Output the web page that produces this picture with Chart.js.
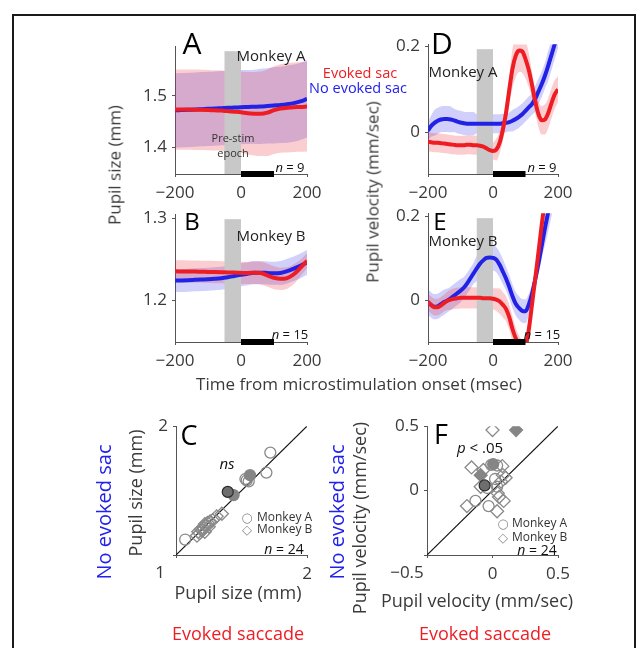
<!DOCTYPE html>
<html><head><meta charset="utf-8">
<script src="https://cdn.jsdelivr.net/npm/chart.js@4.4.1/dist/chart.umd.min.js"></script>
<style>
html,body{margin:0;padding:0;background:#fff;}
#page{position:relative;width:641px;height:648px;overflow:hidden;font-family:'Open Sans',sans-serif;background:#fff;}
canvas{position:absolute;}
.t{position:absolute;white-space:nowrap;line-height:1;transform:translate(-50%,-50%);color:#3a3a3a;z-index:5;}
.r{transform:translate(-50%,-50%) rotate(-90deg);}
.frame{position:absolute;left:12px;top:14px;width:624px;height:700px;border:2px solid #1a1a1a;box-sizing:border-box;}
.L{color:#000;}
.red{color:#ee1d23;}
.blue{color:#2121ee;}
.mk{color:#8a8a8a;font-family:'DejaVu Sans',sans-serif;}
</style></head>
<body><div id="page"><div class="frame"></div>

<div class="t L" style="left:192px;top:43px;font-size:30px">A</div>
<div class="t" style="left:271px;top:55px;font-size:15px;color:#222">Monkey A</div>
<div class="t red" style="left:360px;top:73px;font-size:14.5px">Evoked sac</div>
<div class="t blue" style="left:358px;top:88px;font-size:14.5px">No evoked sac</div>
<div class="t" style="left:233px;top:137px;font-size:11px;color:#333">Pre-stim</div>
<div class="t" style="left:233px;top:152px;font-size:11px;color:#333">epoch</div>
<div class="t" style="left:290px;top:167px;font-size:13px;color:#111"><i>n</i> = 9</div>

<div class="t L" style="left:192px;top:221px;font-size:24px">B</div>
<div class="t" style="left:271px;top:235px;font-size:15px;color:#222">Monkey B</div>
<div class="t" style="left:290px;top:334px;font-size:13px;color:#111"><i>n</i> = 15</div>

<div class="t L" style="left:442px;top:43px;font-size:30px">D</div>
<div class="t" style="left:463px;top:71px;font-size:15px;color:#222">Monkey A</div>
<div class="t" style="left:542px;top:167px;font-size:13px;color:#111"><i>n</i> = 9</div>

<div class="t L" style="left:440px;top:221px;font-size:24px">E</div>
<div class="t" style="left:463px;top:240px;font-size:15px;color:#222">Monkey B</div>
<div class="t" style="left:542px;top:334px;font-size:13px;color:#111"><i>n</i> = 15</div>

<div class="t r" style="left:114px;top:165px;font-size:17px">Pupil size (mm)</div>
<div class="t r" style="left:372px;top:192px;font-size:17px">Pupil velocity (mm/sec)</div>
<div class="t" style="left:359px;top:383px;font-size:17px">Time from microstimulation onset (msec)</div>

<div class="t L" style="left:189px;top:434px;font-size:27px">C</div>
<div class="t" style="left:227px;top:463px;font-size:15px;color:#111"><i>ns</i></div>
<div class="t mk" style="left:247px;top:517px;font-size:13px">○</div>
<div class="t" style="left:257px;top:517px;font-size:12px;color:#333;transform:translate(0,-50%)">Monkey A</div>
<div class="t mk" style="left:247px;top:529px;font-size:13px">◇</div>
<div class="t" style="left:257px;top:529px;font-size:12px;color:#333;transform:translate(0,-50%)">Monkey B</div>
<div class="t" style="left:284px;top:549px;font-size:14px;color:#111"><i>n</i> = 24</div>
<div class="t" style="left:160px;top:571px;font-size:17px">1</div>
<div class="t r" style="left:135px;top:493px;font-size:18px">Pupil size (mm)</div>
<div class="t r blue" style="left:104px;top:512px;font-size:20px">No evoked sac</div>
<div class="t" style="left:238px;top:592px;font-size:18px">Pupil size (mm)</div>
<div class="t red" style="left:238px;top:633px;font-size:18px">Evoked saccade</div>

<div class="t L" style="left:441px;top:433px;font-size:27px">F</div>
<div class="t" style="left:480px;top:447px;font-size:15px;color:#111"><i>p</i> &lt; .05</div>
<div class="t mk" style="left:503px;top:523px;font-size:13px">○</div>
<div class="t" style="left:512px;top:523px;font-size:12px;color:#333;transform:translate(0,-50%)">Monkey A</div>
<div class="t mk" style="left:503px;top:537px;font-size:13px">◇</div>
<div class="t" style="left:512px;top:537px;font-size:12px;color:#333;transform:translate(0,-50%)">Monkey B</div>
<div class="t" style="left:537px;top:550px;font-size:14px;color:#111"><i>n</i> = 24</div>
<div class="t" style="left:407px;top:571px;font-size:17px">−0.5</div>
<div class="t r" style="left:359px;top:518px;font-size:18px">Pupil velocity (mm/sec)</div>
<div class="t r blue" style="left:337px;top:512px;font-size:20px">No evoked sac</div>
<div class="t" style="left:477px;top:600px;font-size:18px">Pupil velocity (mm/sec)</div>
<div class="t red" style="left:485px;top:633px;font-size:18px">Evoked saccade</div>
</div>
<script>
// ---------------- DATA ----------------
const timeCoarse = [-200,-180,-160,-140,-120,-100,-80,-60,-40,-20,0,20,40,60,80,100,120,140,160,180,200];
const timeFine = [-200,-190,-180,-170,-160,-150,-140,-130,-120,-110,-100,-90,-80,-70,-60,-50,-40,-30,-20,-10,0,10,20,30,40,50,60,70,80,90,100,110,120,130,140,150,160,170,180,190,200];
const timeTicks = [-200, 0, 200];
const preStimEpoch = [-50, 0];
const stimWindow = [0, 100];

// Panel A: Monkey A pupil size (mm)
const aEvoked   = [1.473,1.473,1.473,1.4728,1.4725,1.472,1.4715,1.471,1.470,1.469,1.468,1.466,1.465,1.4647,1.467,1.472,1.475,1.4765,1.4775,1.478,1.4788];
const aEvokedSem= [0.078,0.078,0.078,0.078,0.078,0.078,0.078,0.078,0.078,0.079,0.079,0.080,0.081,0.082,0.084,0.085,0.086,0.087,0.087,0.087,0.087];
const aNoEvoked = [1.4715,1.472,1.4725,1.473,1.4738,1.4745,1.475,1.4758,1.4765,1.477,1.4776,1.478,1.4785,1.479,1.480,1.481,1.482,1.4835,1.4855,1.489,1.4936];
const aNoEvokedSem=[0.072,0.072,0.072,0.072,0.072,0.072,0.072,0.072,0.072,0.072,0.072,0.072,0.072,0.073,0.073,0.074,0.074,0.075,0.075,0.075,0.075];
const aTicks = [1.4, 1.5];

// Panel B: Monkey B pupil size (mm)
const bEvoked   = [1.2353,1.2352,1.2351,1.235,1.2348,1.2346,1.2344,1.2342,1.234,1.2338,1.2335,1.2333,1.2337,1.2332,1.2305,1.2275,1.2262,1.2272,1.2318,1.2395,1.2482];
const bEvokedSem= [0.0135,0.0135,0.0135,0.0135,0.0135,0.0135,0.0135,0.0135,0.0135,0.0135,0.0135,0.0135,0.0138,0.014,0.014,0.014,0.0135,0.013,0.012,0.010,0.009];
const bNoEvoked = [1.2241,1.2243,1.2246,1.225,1.2254,1.2258,1.2263,1.227,1.2282,1.2297,1.2312,1.2325,1.2335,1.2337,1.2333,1.2329,1.2333,1.2355,1.2385,1.242,1.2462];
const bNoEvokedSem=[0.014,0.014,0.014,0.014,0.014,0.014,0.014,0.014,0.014,0.014,0.014,0.014,0.014,0.014,0.014,0.014,0.0145,0.015,0.015,0.015,0.015];
const bTicks = [1.2, 1.3];

// Panel D: Monkey A pupil velocity (mm/sec)
const dEvoked = [-0.022,-0.023,-0.024,-0.024,-0.025,-0.026,-0.027,-0.028,-0.029,-0.030,-0.030,-0.030,-0.029,-0.029,-0.030,-0.030,-0.031,-0.033,-0.037,-0.041,-0.043,-0.040,-0.025,0.005,0.045,0.098,0.148,0.178,0.190,0.188,0.170,0.145,0.110,0.072,0.042,0.028,0.030,0.045,0.068,0.088,0.100];
const dEvokedSem = [0.022,0.022,0.022,0.022,0.022,0.022,0.022,0.022,0.022,0.022,0.022,0.022,0.022,0.022,0.022,0.022,0.022,0.022,0.022,0.022,0.020,0.025,0.025,0.025,0.028,0.035,0.045,0.050,0.050,0.050,0.045,0.040,0.030,0.027,0.030,0.033,0.035,0.035,0.035,0.033,0.030];
const dNoEvoked = [0.004,0.015,0.022,0.027,0.030,0.031,0.031,0.030,0.028,0.025,0.023,0.021,0.020,0.020,0.020,0.020,0.020,0.020,0.020,0.020,0.020,0.020,0.020,0.021,0.022,0.024,0.027,0.031,0.036,0.042,0.050,0.058,0.066,0.078,0.095,0.112,0.132,0.155,0.180,0.205,0.230];
const dNoEvokedSem = [0.020,0.025,0.030,0.030,0.030,0.030,0.030,0.030,0.027,0.027,0.027,0.027,0.027,0.027,0.027,0.022,0.022,0.022,0.022,0.022,0.022,0.022,0.022,0.022,0.022,0.022,0.025,0.025,0.025,0.025,0.025,0.025,0.025,0.030,0.030,0.030,0.030,0.035,0.035,0.035,0.035];
const dTicks = [0, 0.2];

// Panel E: Monkey B pupil velocity (mm/sec)
const eEvoked = [-0.004,-0.011,-0.016,-0.016,-0.012,-0.006,-0.001,0.002,0.004,0.005,0.006,0.006,0.006,0.006,0.006,0.006,0.006,0.005,0.005,0.005,0.004,0.002,-0.002,-0.010,-0.020,-0.040,-0.068,-0.090,-0.105,-0.115,-0.110,-0.070,-0.010,0.052,0.115,0.180,0.240,0.300,0.360,0.420,0.480];
const eEvokedSem = [0.020,0.020,0.020,0.020,0.020,0.020,0.022,0.024,0.025,0.025,0.025,0.025,0.025,0.025,0.025,0.025,0.025,0.025,0.025,0.025,0.025,0.027,0.030,0.030,0.030,0.030,0.030,0.025,0.022,0.020,0.020,0.020,0.020,0.020,0.020,0.020,0.020,0.020,0.020,0.020,0.020];
const eNoEvoked = [-0.004,-0.011,-0.015,-0.014,-0.009,-0.004,0.000,0.005,0.011,0.017,0.023,0.030,0.040,0.052,0.064,0.076,0.087,0.095,0.101,0.102,0.101,0.097,0.085,0.069,0.052,0.032,0.010,-0.008,-0.018,-0.025,-0.026,-0.010,0.015,0.050,0.088,0.130,0.172,0.210,0.250,0.290,0.330];
const eNoEvokedSem = [0.030,0.030,0.030,0.030,0.030,0.030,0.028,0.028,0.028,0.028,0.028,0.025,0.025,0.025,0.025,0.030,0.030,0.030,0.030,0.030,0.030,0.030,0.030,0.030,0.028,0.028,0.028,0.028,0.028,0.028,0.028,0.025,0.022,0.022,0.025,0.030,0.040,0.045,0.050,0.055,0.060];
const eTicks = [0, 0.2];

// Panel C: pupil size (mm), x = evoked saccade, y = no evoked saccade
const cLimits = [1, 2];
const cMonkeyAOpen   = [[1.72,1.795],[1.69,1.64],[1.54,1.58],[1.555,1.572],[1.53,1.59],[1.07,1.12]];
const cMonkeyAFilled = [[1.565,1.62],[1.44,1.465]];
const cMonkeyADark   = [[1.395,1.49]];
const cMonkeyBOpen   = [[1.35,1.32],[1.31,1.30],[1.28,1.27],[1.26,1.26],[1.24,1.25],[1.23,1.22],[1.22,1.24],[1.21,1.21],[1.20,1.19],[1.19,1.20],[1.18,1.17],[1.17,1.18],[1.16,1.15],[1.22,1.18],[1.25,1.22]];
const cTicks = [1, 2];

// Panel F: pupil velocity (mm/sec)
const fLimits = [-0.5, 0.5];
const fMonkeyAOpen   = [[-0.01,0.20],[0.035,0.195],[0.02,0.09],[0.035,0.03],[-0.04,0.02],[-0.13,-0.08],[-0.03,-0.12]];
const fMonkeyAFilled = [[0.005,0.205]];
const fMonkeyADark   = [[-0.06,0.04]];
const fMonkeyBOpen   = [[0.0,0.47],[-0.16,0.18],[0.075,0.19],[0.08,0.12],[0.065,0.07],[-0.09,0.03],[0.04,-0.02],[0.085,-0.08],[-0.195,-0.12],[0.035,-0.16],[0.05,-0.05],[0.10,0.10],[-0.07,0.16]];
const fMonkeyBFilled = [[0.18,0.47],[-0.09,0.12]];
const fTicks = [-0.5, 0, 0.5];

// ---------------- DRAWING ----------------
const page = document.getElementById('page');
Chart.defaults.font.family = "'Open Sans', sans-serif";
Chart.defaults.color = '#3a3a3a';

const RED = '#ee1d23', BLUE = '#2222e6';
const RED_BAND = 'rgba(236,50,60,0.24)', BLUE_BAND = 'rgba(60,60,235,0.24)';
const AXIS = '#555';

function fmt(v){ return String(Math.round(v*1000)/1000).replace('-', '\u2212'); }

function makeCanvas(x0,y0,x1,y1){
  const pad = {l:62, t:14, r:34, b:36};
  const c = document.createElement('canvas');
  c.width = (x1-x0)+pad.l+pad.r; c.height = (y1-y0)+pad.t+pad.b;
  c.style.left = (x0-pad.l)+'px'; c.style.top = (y0-pad.t)+'px';
  c.style.width = c.width+'px'; c.style.height = c.height+'px';
  page.appendChild(c);
  return {c, pad};
}

function scaleCfg(min, max, ticks, isX, fit, hide){
  return {
    type:'linear', min, max,
    afterBuildTicks: s => { s.ticks = ticks.map(v => ({value:v})); },
    afterFit: s => { if (isX) s.height = fit; else s.width = fit; },
    ticks:{autoSkip:false, maxRotation:0, color:'#3a3a3a', font:{size:17}, padding: isX ? 6 : 5,
      callback: v => (hide && hide.includes(v)) ? '' : fmt(v)},
    grid:{display:true, drawOnChartArea:false, drawTicks:true, tickLength:3, color:AXIS},
    border:{display:true, color:AXIS, width:1}
  };
}

const epochPlugin = {
  id:'epoch',
  beforeDatasetDraw(chart, args){
    if (args.index !== 1) return;
    const {ctx, chartArea:a, scales:{x}} = chart;
    const xa = x.getPixelForValue(preStimEpoch[0]), xb = x.getPixelForValue(preStimEpoch[1]);
    ctx.save(); ctx.fillStyle = '#c8c8c8';
    ctx.fillRect(xa, a.top+5, xb-xa, a.bottom-a.top-5);
    ctx.restore();
  },
  afterDraw(chart){
    const {ctx, chartArea:a, scales:{x}} = chart;
    const xa = x.getPixelForValue(stimWindow[0]), xb = x.getPixelForValue(stimWindow[1]);
    ctx.save(); ctx.fillStyle = '#000';
    ctx.fillRect(xa, a.bottom-3, xb-xa, 6);
    ctx.restore();
  }
};

const pts = (t, m) => t.map((x,i) => ({x, y:m[i]}));
const band = (t, m, s, sg) => t.map((x,i) => ({x, y:m[i] + sg*s[i]}));

function timePanel(p){
  const {c, pad} = makeCanvas(p.x0, p.y0, p.x1, p.y1);
  const common = {pointRadius:0, cubicInterpolationMode:'monotone'};
  new Chart(c, {
    type:'line',
    data:{datasets:[
      {...common, data:pts(p.t,p.red), borderColor:RED, borderWidth:4, fill:false},
      {...common, data:pts(p.t,p.blue), borderColor:BLUE, borderWidth:4, fill:false},
      {...common, data:band(p.t,p.red,p.redSem,1), borderWidth:0, borderColor:'rgba(0,0,0,0)', fill:'+1', backgroundColor:RED_BAND},
      {...common, data:band(p.t,p.red,p.redSem,-1), borderWidth:0, borderColor:'rgba(0,0,0,0)', fill:false},
      {...common, data:band(p.t,p.blue,p.blueSem,1), borderWidth:0, borderColor:'rgba(0,0,0,0)', fill:'+1', backgroundColor:BLUE_BAND},
      {...common, data:band(p.t,p.blue,p.blueSem,-1), borderWidth:0, borderColor:'rgba(0,0,0,0)', fill:false}
    ]},
    options:{
      responsive:false, animation:false, devicePixelRatio:1,
      layout:{padding:{left:0, top:pad.t, right:pad.r, bottom:0}},
      scales:{
        x: scaleCfg(timeTicks[0], timeTicks[timeTicks.length-1], timeTicks, true, pad.b),
        y: scaleCfg(p.ymin, p.ymax, p.yticks, false, pad.l)
      },
      plugins:{legend:{display:false}, tooltip:{enabled:false}}
    },
    plugins:[epochPlugin]
  });
}

timePanel({x0:175, y0:45, x1:307, y1:174, ymin:1.348, ymax:1.596, yticks:aTicks, t:timeCoarse,
  red:aEvoked, redSem:aEvokedSem, blue:aNoEvoked, blueSem:aNoEvokedSem});
timePanel({x0:175, y0:213, x1:307, y1:342, ymin:1.1494, ymax:1.3048, yticks:bTicks, t:timeCoarse,
  red:bEvoked, redSem:bEvokedSem, blue:bNoEvoked, blueSem:bNoEvokedSem});
timePanel({x0:428, y0:43, x1:558, y1:174, ymin:-0.0966, ymax:0.2046, yticks:dTicks, t:timeFine,
  red:dEvoked, redSem:dEvokedSem, blue:dNoEvoked, blueSem:dNoEvokedSem});
timePanel({x0:428, y0:212, x1:558, y1:342, ymin:-0.0988, ymax:0.207, yticks:eTicks, t:timeFine,
  red:eEvoked, redSem:eEvokedSem, blue:eNoEvoked, blueSem:eNoEvokedSem});

const xy = arr => arr.map(([x,y]) => ({x, y}));
function scatterPanel(p){
  const {c, pad} = makeCanvas(p.x0, p.y0, p.x1, p.y1);
  const open = '#8a8a8a';
  new Chart(c, {
    type:'scatter',
    data:{datasets:[
      {data:xy(p.aDark), pointStyle:'circle', pointRadius:5.5, backgroundColor:'#6e6e6e', borderColor:'#2a2a2a', borderWidth:1.2},
      {data:xy(p.aFilled), pointStyle:'circle', pointRadius:5.5, backgroundColor:'#858585', borderColor:'#858585', borderWidth:1.2},
      {data:xy(p.bFilled || []), pointStyle:'rectRot', pointRadius:6.5, backgroundColor:'#858585', borderColor:'#858585', borderWidth:1.2},
      {data:xy(p.aOpen), pointStyle:'circle', pointRadius:5.5, backgroundColor:'rgba(0,0,0,0)', borderColor:open, borderWidth:1.3},
      {data:xy(p.bOpen), pointStyle:'rectRot', pointRadius:6.5, backgroundColor:'rgba(0,0,0,0)', borderColor:open, borderWidth:1.3},
      {type:'line', data:[{x:p.lim[0], y:p.lim[0]}, {x:p.lim[1], y:p.lim[1]}], borderColor:'#111', borderWidth:1.2, pointRadius:0, showLine:true}
    ]},
    options:{
      responsive:false, animation:false, devicePixelRatio:1,
      layout:{padding:{left:0, top:pad.t, right:pad.r, bottom:0}},
      scales:{
        x: scaleCfg(p.lim[0], p.lim[1], p.ticks, true, pad.b, [p.lim[0]]),
        y: scaleCfg(p.lim[0], p.lim[1], p.ticks, false, pad.l, [p.lim[0]])
      },
      plugins:{legend:{display:false}, tooltip:{enabled:false}}
    }
  });
}

scatterPanel({x0:176, y0:425, x1:307, y1:555, lim:cLimits, ticks:cTicks,
  aOpen:cMonkeyAOpen, aFilled:cMonkeyAFilled, aDark:cMonkeyADark, bOpen:cMonkeyBOpen});
scatterPanel({x0:427, y0:425, x1:558, y1:555, lim:fLimits, ticks:fTicks,
  aOpen:fMonkeyAOpen, aFilled:fMonkeyAFilled, aDark:fMonkeyADark, bOpen:fMonkeyBOpen, bFilled:fMonkeyBFilled});
</script>
</body></html>
